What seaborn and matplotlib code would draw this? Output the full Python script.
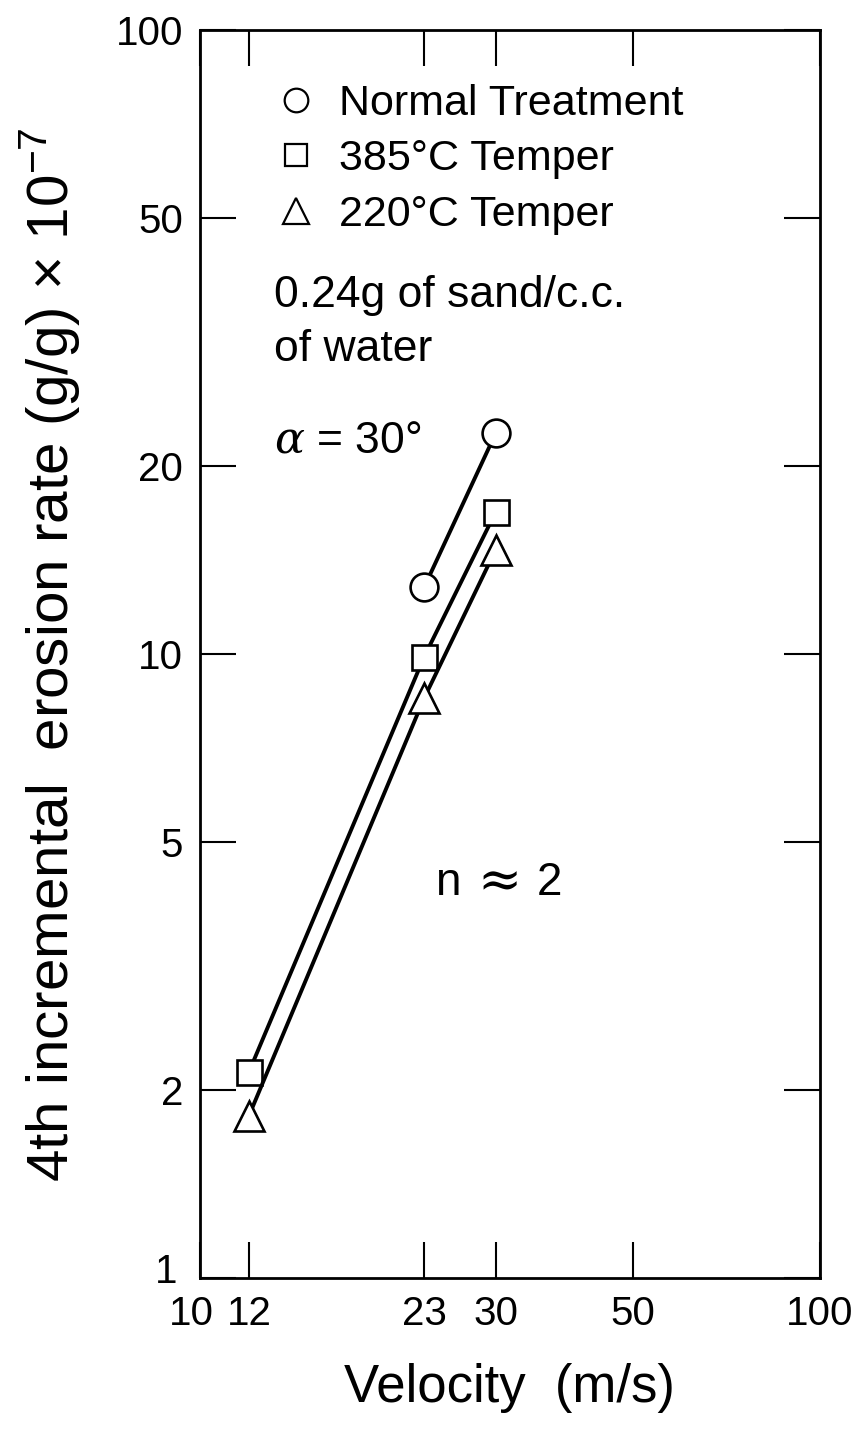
import matplotlib
matplotlib.use("Agg")
import matplotlib.pyplot as plt
import matplotlib.transforms as mtransforms
from matplotlib.lines import Line2D
import seaborn as sns
import pandas as pd

sns.set_theme(style="white")
plt.rcParams['font.family'] = ['Liberation Sans', 'DejaVu Sans']
plt.rcParams['text.color'] = 'black'
plt.rcParams['axes.labelcolor'] = 'black'
plt.rcParams['mathtext.fontset'] = 'custom'
plt.rcParams['mathtext.rm'] = 'Liberation Sans'
plt.rcParams['mathtext.it'] = 'DejaVu Serif:italic'

# Data
normal_v = [23, 30]
normal_rate = [12.8, 22.6]
t385_v = [12, 23, 30]
t385_rate = [2.14, 9.9, 16.9]
t220_v = [12, 23, 30]
t220_rate = [1.82, 8.5, 14.7]

series_names = ["Normal Treatment", "385°C Temper", "220°C Temper"]
series_markers = ["o", "s", "^"]
xticks = [10, 12, 23, 30, 50, 100]
yticks = [1, 2, 5, 10, 20, 50, 100]

fig = plt.figure(figsize=(8.54, 14.48), dpi=100)
ax = fig.add_axes([0.234, 0.1174, 0.726, 0.8616])

datasets = [(normal_v, normal_rate), (t385_v, t385_rate), (t220_v, t220_rate)]
msizes = [20, 18, 22]
for (v, r), name, mk, ms in zip(datasets, series_names, series_markers, msizes):
    df = pd.DataFrame({"v": v, "r": r})
    sns.lineplot(data=df, x="v", y="r", ax=ax, color="black", lw=2.8,
                 marker=mk, markersize=ms, markerfacecolor="white",
                 markeredgecolor="black", markeredgewidth=1.9, zorder=3)

ax.set_xscale("log")
ax.set_yscale("log")
ax.set_xlim(10, 100)
ax.set_ylim(1, 100)
ax.set_xticks(xticks)
ax.set_xticklabels([str(t) for t in xticks])
ax.set_yticks(yticks)
ax.set_yticklabels([str(t) for t in yticks])
ax.minorticks_off()
ax.tick_params(axis="both", which="major", direction="in", length=26, width=1.5,
               top=True, right=True, bottom=True, left=True,
               labelsize=29, pad=12, colors="black")
for s in ax.spines.values():
    s.set_linewidth(2.0)
    s.set_color("black")

# nudge the crowded corner labels apart, as in the original
first_x = ax.get_xticklabels()[0]
first_x.set_transform(first_x.get_transform() +
                      mtransforms.ScaledTranslation(-8 / 100, 0, fig.dpi_scale_trans))
first_y = ax.get_yticklabels()[0]
first_y.set_transform(first_y.get_transform() +
                      mtransforms.ScaledTranslation(-6 / 100, 10 / 100, fig.dpi_scale_trans))

ax.set_xlabel("Velocity  (m/s)", fontsize=38, labelpad=22)
ax.set_ylabel(r"4th incremental  erosion rate (g/g) $\times$ 10$^{-7}$", fontsize=42, labelpad=24)

handles = [Line2D([], [], linestyle="none", marker=mk, markersize=ms * 0.85,
                  markerfacecolor="white", markeredgecolor="black", markeredgewidth=1.6)
           for mk, ms in zip(series_markers, msizes)]
ax.legend(handles, series_names, loc="upper left", bbox_to_anchor=(0.1, 0.971),
          frameon=False, fontsize=31, handlelength=0.8, handletextpad=0.6,
          labelspacing=0.36, borderaxespad=0)

ax.text(0.12, 0.766, "0.24g of sand/c.c.\nof water", transform=ax.transAxes,
        fontsize=32, va="center", ha="left", linespacing=1.4)
ax.text(0.12, 0.671, r"$\alpha$ = 30°", transform=ax.transAxes,
        fontsize=32, va="center", ha="left")
ax.text(0.379, 0.3165, "n", transform=ax.transAxes,
        fontsize=33, va="center", ha="left")
ax.text(0.484, 0.3165, "≈", transform=ax.transAxes, family=["DejaVu Serif"],
        fontsize=38, va="center", ha="center")
ax.text(0.544, 0.3165, "2", transform=ax.transAxes,
        fontsize=33, va="center", ha="left")

fig.savefig("out.png", dpi=100, facecolor="white")
